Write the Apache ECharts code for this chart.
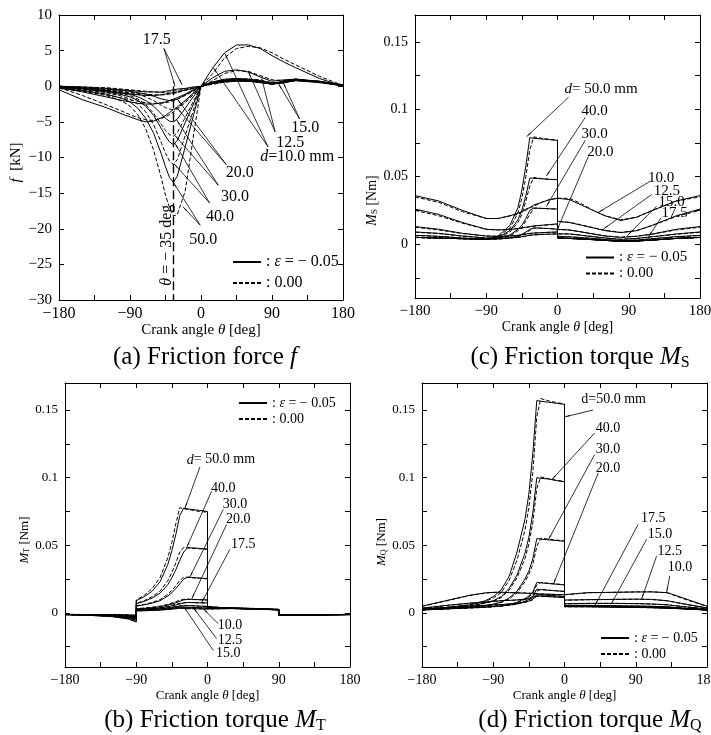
<!DOCTYPE html>
<html>
<head>
<meta charset="utf-8">
<script src="https://cdn.jsdelivr.net/npm/echarts@6/dist/echarts.min.js"></script>
<style>
  html, body { margin: 0; padding: 0; background: #fff; }
  #chart { width: 711px; height: 735px; }
</style>
</head>
<body>
<div id="chart"></div>
<script>
// 直径 d [mm]
var diameters = ['10.0', '12.5', '15.0', '17.5', '20.0', '30.0', '40.0', '50.0'];

// (a) 摩擦力 f [kN]
var thetaA = [-180,-150,-120,-100,-90,-80,-70,-60,-50,-45,-40,-35,-30,-20,-10,0,15,30,45,60,75,90,105,120,150,180];
var fSolid = [
  [-0.5,-1.9,-3.0,-3.9,-4.3,-4.7,-5.0,-4.9,-4.4,-4.1,-3.7,-3.3,-2.9,-2.0,-1.0,0,2.6,4.7,5.8,5.8,5.3,4.3,3.4,2.6,1.1,0],
  [-0.2,-0.8,-1.5,-2.0,-2.2,-2.4,-2.5,-2.5,-2.3,-2.2,-2.0,-1.8,-1.6,-1.1,-0.5,0,1.2,2.1,2.3,2.0,1.3,0.7,0.9,1.0,0.6,0],
  [0,-0.3,-0.7,-1.0,-1.1,-1.2,-1.3,-1.3,-1.2,-1.1,-1.0,-0.9,-0.8,-0.5,-0.3,0,0.6,1.0,1.1,1.0,0.8,0.4,0.7,0.9,0.6,0.1],
  [0,-0.1,-0.3,-0.5,-0.6,-0.7,-0.8,-0.8,-0.8,-0.7,-0.6,-0.5,-0.4,-0.3,-0.1,0,0.4,0.7,0.8,0.8,0.6,0.3,0.7,0.9,0.6,0.1],
  [0,-0.2,-0.4,-0.6,-0.7,-0.9,-1.1,-1.4,-1.8,-1.9,-2.0,-2.0,-1.8,-1.2,-0.6,0,0.4,0.6,0.7,0.7,0.6,0.3,0.6,0.8,0.6,0.1],
  [-0.1,-0.3,-0.6,-0.9,-1.1,-1.5,-2.0,-2.8,-3.9,-4.5,-4.9,-5.0,-4.6,-3.1,-1.5,0,0.5,0.7,0.8,0.7,0.5,0.3,0.5,0.8,0.5,0.1],
  [-0.2,-0.4,-0.8,-1.2,-1.5,-2.0,-2.8,-4.1,-6.0,-7.0,-7.8,-8.2,-7.6,-5.1,-2.6,0,0.5,0.8,0.9,0.8,0.6,0.3,0.5,0.9,0.6,0.1],
  [-0.3,-0.6,-1.1,-1.7,-2.2,-3.1,-4.5,-6.6,-9.6,-11.3,-12.8,-13.5,-12.6,-8.5,-4.3,0,0.6,0.9,1.0,0.9,0.6,0.4,0.6,1.0,0.6,0.1]
];
var fDashed = [
  [-0.2,-1.3,-2.6,-3.5,-4.0,-4.4,-4.7,-4.8,-4.5,-4.3,-4.0,-3.6,-3.2,-2.3,-1.2,0,1.8,4.0,5.3,5.6,5.4,4.7,3.8,3.0,1.4,0.1],
  [-0.1,-0.6,-1.2,-1.7,-1.9,-2.1,-2.3,-2.4,-2.4,-2.3,-2.2,-2.0,-1.8,-1.3,-0.7,0,0.8,1.8,2.2,2.1,1.5,0.9,0.8,1.0,0.7,0.1],
  [0,-0.2,-0.5,-0.8,-0.9,-1.0,-1.1,-1.2,-1.2,-1.2,-1.1,-1.0,-0.9,-0.6,-0.3,0,0.4,0.8,1.0,1.0,0.9,0.5,0.6,0.9,0.7,0.2],
  [0,-0.1,-0.2,-0.4,-0.5,-0.6,-0.7,-0.8,-0.9,-0.9,-0.8,-0.7,-0.6,-0.4,-0.2,0,0.3,0.6,0.8,0.8,0.7,0.4,0.6,0.9,0.7,0.2],
  [0,-0.2,-0.5,-0.7,-0.9,-1.1,-1.5,-2.0,-2.7,-3.0,-3.2,-3.3,-3.1,-2.1,-1.0,0,0.3,0.6,0.7,0.7,0.6,0.4,0.6,0.8,0.6,0.2],
  [-0.1,-0.3,-0.7,-1.0,-1.3,-1.8,-2.6,-3.8,-5.4,-6.2,-6.8,-7.0,-6.5,-4.4,-2.2,0,0.4,0.7,0.8,0.8,0.6,0.4,0.5,0.8,0.6,0.2],
  [-0.2,-0.5,-0.9,-1.4,-1.8,-2.5,-3.6,-5.4,-8.0,-9.4,-10.5,-11.0,-10.3,-6.9,-3.5,0,0.4,0.8,0.9,0.9,0.7,0.4,0.5,0.9,0.7,0.2],
  [-0.3,-0.7,-1.3,-2.1,-2.8,-4.0,-6.0,-9.0,-13.0,-15.3,-17.0,-18.2,-18.0,-14.7,-7.3,0,0.5,0.9,1.0,1.0,0.7,0.5,0.6,1.0,0.7,0.2]
];

// (c) 摩擦トルク M_S [Nm]
var thetaC = [-180,-150,-120,-90,-75,-60,-50,-45,-40,-35,-30,-20,-10,0,0,15,30,45,60,80,100,120,150,180];
var msSolid = [
  [0.036,0.032,0.025,0.019,0.019,0.021,0.023,0.024,0.026,0.027,0.029,0.031,0.033,0.034,0.035,0.033,0.029,0.025,0.021,0.0175,0.020,0.025,0.032,0.036],
  [0.026,0.022,0.016,0.011,0.0105,0.011,0.0115,0.012,0.0125,0.013,0.0135,0.014,0.0145,0.015,0.017,0.016,0.014,0.012,0.010,0.0085,0.010,0.014,0.021,0.026],
  [0.013,0.011,0.008,0.006,0.0058,0.006,0.0065,0.007,0.0075,0.008,0.0082,0.0085,0.0088,0.009,0.011,0.0105,0.009,0.0075,0.006,0.005,0.0058,0.0075,0.011,0.013],
  [0.009,0.008,0.006,0.0045,0.0044,0.0047,0.005,0.0055,0.006,0.0066,0.0069,0.0072,0.0074,0.0076,0.008,0.0075,0.0065,0.0055,0.0045,0.0035,0.0042,0.0055,0.0075,0.009],
  [0.0065,0.0058,0.0045,0.0036,0.0038,0.0045,0.006,0.0072,0.009,0.011,0.012,0.0118,0.0115,0.011,0.0058,0.0054,0.0048,0.0042,0.0034,0.0026,0.003,0.004,0.0055,0.0065],
  [0.005,0.0045,0.004,0.0034,0.0043,0.0068,0.011,0.014,0.019,0.025,0.0268,0.0265,0.0262,0.026,0.0045,0.0042,0.0038,0.0033,0.0028,0.002,0.0023,0.003,0.0042,0.005],
  [0.005,0.0045,0.004,0.0035,0.005,0.010,0.018,0.025,0.036,0.049,0.0488,0.0485,0.048,0.0478,0.0045,0.0042,0.0038,0.0033,0.0028,0.002,0.0023,0.003,0.0042,0.005],
  [0.005,0.0045,0.004,0.0038,0.006,0.014,0.027,0.040,0.058,0.079,0.0785,0.078,0.0775,0.077,0.0045,0.0042,0.0038,0.0033,0.0028,0.002,0.0023,0.003,0.0042,0.005]
];
var msDashed = [
  [0.035,0.031,0.024,0.019,0.019,0.021,0.022,0.024,0.025,0.027,0.028,0.031,0.033,0.034,0.035,0.034,0.030,0.025,0.021,0.018,0.020,0.025,0.032,0.035],
  [0.025,0.021,0.0155,0.011,0.0105,0.011,0.0115,0.012,0.0123,0.0128,0.0133,0.0138,0.0143,0.0148,0.0168,0.0162,0.0143,0.0122,0.0102,0.0087,0.010,0.0138,0.0205,0.025],
  [0.0125,0.0105,0.0078,0.006,0.0058,0.0059,0.0064,0.0068,0.0073,0.0078,0.0081,0.0084,0.0087,0.0089,0.0108,0.0104,0.0091,0.0076,0.0061,0.0051,0.0058,0.0074,0.0105,0.0125],
  [0.0088,0.0078,0.0059,0.0045,0.0044,0.0046,0.0049,0.0053,0.0058,0.0064,0.0068,0.0071,0.0073,0.0075,0.0079,0.0076,0.0066,0.0056,0.0046,0.0036,0.0042,0.0054,0.0073,0.0088],
  [0.0063,0.0057,0.0045,0.0036,0.0037,0.0043,0.0055,0.0066,0.0082,0.0102,0.0119,0.0118,0.0115,0.011,0.0058,0.0054,0.0048,0.0042,0.0034,0.0026,0.003,0.004,0.0054,0.0063],
  [0.0049,0.0045,0.004,0.0034,0.0041,0.006,0.0098,0.0125,0.017,0.022,0.0266,0.0265,0.0262,0.026,0.0045,0.0042,0.0038,0.0033,0.0028,0.002,0.0023,0.003,0.0042,0.0049],
  [0.0049,0.0045,0.004,0.0035,0.0046,0.009,0.016,0.022,0.032,0.043,0.0495,0.0486,0.0481,0.0478,0.0045,0.0042,0.0038,0.0033,0.0028,0.002,0.0023,0.003,0.0042,0.0049],
  [0.0049,0.0045,0.004,0.0037,0.0055,0.012,0.023,0.034,0.050,0.070,0.0795,0.0786,0.0777,0.077,0.0045,0.0042,0.0038,0.0033,0.0028,0.002,0.0023,0.003,0.0042,0.0049]
];

// (b) 摩擦トルク M_T [Nm]
var thetaB = [-180,-150,-120,-100,-90,-90,-80,-70,-60,-50,-45,-40,-35,-30,-25,-20,-10,0,0,30,60,90,90,120,150,180];
var mtSolid = [
  [-0.0011,-0.0012,-0.0013,-0.0015,-0.0018,0.0015,0.0016,0.0018,0.0021,0.0025,0.0028,0.0031,0.0034,0.0033,0.0032,0.0031,0.003,0.0029,0.0033,0.0032,0.0028,0.0022,-0.0014,-0.0014,-0.0013,-0.0011],
  [-0.0012,-0.0013,-0.0015,-0.0018,-0.0022,0.0017,0.0019,0.0022,0.0025,0.003,0.0033,0.0037,0.0041,0.0042,0.0041,0.004,0.0038,0.0036,0.0034,0.0033,0.0029,0.0023,-0.0015,-0.0014,-0.0013,-0.0011],
  [-0.0012,-0.0014,-0.0017,-0.0021,-0.0026,0.002,0.0023,0.0026,0.003,0.0036,0.004,0.0045,0.005,0.0053,0.0054,0.0053,0.005,0.0048,0.0035,0.0033,0.0029,0.0023,-0.0015,-0.0015,-0.0013,-0.0012],
  [-0.0012,-0.0015,-0.0019,-0.0025,-0.0031,0.0025,0.0028,0.0032,0.0037,0.0046,0.0052,0.0058,0.0066,0.0073,0.0077,0.0077,0.0075,0.0074,0.0036,0.0034,0.003,0.0024,-0.0015,-0.0015,-0.0014,-0.0012],
  [-0.0012,-0.0015,-0.002,-0.0027,-0.0035,0.003,0.0034,0.0039,0.0046,0.0058,0.0066,0.0075,0.0086,0.0096,0.0101,0.010,0.0098,0.0096,0.0036,0.0034,0.003,0.0024,-0.0016,-0.0015,-0.0014,-0.0012],
  [-0.0012,-0.0016,-0.0022,-0.0032,-0.0045,0.005,0.006,0.0072,0.009,0.0125,0.015,0.018,0.0215,0.025,0.0265,0.0262,0.0258,0.0254,0.0037,0.0035,0.003,0.0024,-0.0016,-0.0016,-0.0014,-0.0012],
  [-0.0012,-0.0017,-0.0025,-0.0038,-0.0055,0.0068,0.0085,0.011,0.0145,0.021,0.026,0.032,0.039,0.045,0.0483,0.0481,0.0477,0.0472,0.0039,0.0036,0.0031,0.0025,-0.0016,-0.0016,-0.0014,-0.0012],
  [-0.0012,-0.0018,-0.0028,-0.0045,-0.0068,0.009,0.012,0.016,0.023,0.036,0.046,0.058,0.072,0.0775,0.077,0.0765,0.0758,0.075,0.004,0.0037,0.0032,0.0026,-0.0016,-0.0017,-0.0015,-0.0013]
];
var mtDashed = [
  [-0.0011,-0.0012,-0.0013,-0.0015,-0.0017,0.0015,0.0017,0.0019,0.0022,0.0026,0.0029,0.0032,0.0034,0.0033,0.0032,0.0031,0.003,0.0029,0.0033,0.0032,0.0028,0.0022,-0.0014,-0.0014,-0.0013,-0.0011],
  [-0.0012,-0.0013,-0.0015,-0.0018,-0.0021,0.0018,0.002,0.0023,0.0026,0.0032,0.0035,0.0039,0.0042,0.0042,0.0041,0.004,0.0038,0.0036,0.0034,0.0033,0.0029,0.0023,-0.0015,-0.0014,-0.0013,-0.0011],
  [-0.0012,-0.0014,-0.0017,-0.002,-0.0025,0.0021,0.0024,0.0028,0.0032,0.0039,0.0043,0.0048,0.0053,0.0054,0.0054,0.0053,0.005,0.0048,0.0035,0.0033,0.0029,0.0023,-0.0015,-0.0015,-0.0013,-0.0012],
  [-0.0012,-0.0015,-0.0019,-0.0024,-0.003,0.0026,0.003,0.0034,0.004,0.005,0.0057,0.0064,0.0072,0.0076,0.0077,0.0076,0.0074,0.0073,0.0036,0.0034,0.003,0.0024,-0.0015,-0.0015,-0.0014,-0.0012],
  [-0.0012,-0.0015,-0.002,-0.0026,-0.0034,0.0031,0.0036,0.0042,0.005,0.0064,0.0073,0.0083,0.0094,0.0101,0.0101,0.0099,0.0097,0.0095,0.0036,0.0034,0.003,0.0024,-0.0016,-0.0015,-0.0014,-0.0012],
  [-0.0012,-0.0016,-0.0021,-0.0031,-0.0043,0.0052,0.0063,0.0077,0.0098,0.0138,0.0167,0.020,0.024,0.0265,0.0263,0.026,0.0256,0.0252,0.0037,0.0035,0.003,0.0024,-0.0016,-0.0016,-0.0014,-0.0012],
  [-0.0012,-0.0016,-0.0024,-0.0036,-0.0052,0.007,0.009,0.012,0.016,0.024,0.030,0.037,0.045,0.0485,0.048,0.0478,0.0474,0.047,0.004,0.0037,0.0032,0.0026,-0.0015,-0.0015,-0.0014,-0.0012],
  [-0.0012,-0.0017,-0.0026,-0.0042,-0.0063,0.0095,0.013,0.018,0.026,0.041,0.052,0.066,0.0778,0.077,0.0765,0.076,0.075,0.0745,0.0042,0.0038,0.0033,0.0027,-0.0015,-0.0016,-0.0015,-0.0012]
];

// (d) 摩擦トルク M_Q [Nm]
var thetaD = [-180,-150,-120,-100,-90,-80,-70,-60,-50,-45,-40,-35,-30,-20,-10,0,0,30,60,90,110,130,150,180];
var mqSolid = [
  [0.005,0.009,0.013,0.0148,0.0152,0.0153,0.015,0.0148,0.0146,0.0145,0.0143,0.0141,0.014,0.0138,0.0136,0.0135,0.0145,0.015,0.0152,0.0155,0.0155,0.015,0.011,0.005],
  [0.0035,0.0055,0.0072,0.0082,0.0086,0.009,0.0093,0.0096,0.0102,0.0108,0.0118,0.0125,0.0123,0.012,0.0117,0.0114,0.0095,0.0098,0.010,0.0102,0.010,0.009,0.0068,0.0037],
  [0.0028,0.004,0.005,0.0056,0.0059,0.0062,0.0066,0.0071,0.008,0.0088,0.0102,0.0135,0.0133,0.0129,0.0125,0.0121,0.0068,0.0071,0.0071,0.0069,0.0066,0.006,0.0047,0.003],
  [0.0024,0.0033,0.004,0.0045,0.0048,0.0052,0.0058,0.0066,0.0085,0.010,0.0125,0.0175,0.0172,0.0167,0.0163,0.0158,0.0056,0.0056,0.0054,0.0051,0.0049,0.0045,0.0036,0.0024],
  [0.0022,0.003,0.0037,0.0042,0.0046,0.0052,0.0062,0.0078,0.0105,0.0125,0.0155,0.0225,0.0222,0.0217,0.0212,0.0207,0.005,0.005,0.0048,0.0046,0.0044,0.0041,0.0033,0.0022],
  [0.0022,0.003,0.004,0.0055,0.0065,0.008,0.011,0.016,0.025,0.031,0.040,0.055,0.0545,0.054,0.0535,0.053,0.0046,0.0046,0.0044,0.0041,0.0039,0.0036,0.003,0.0021],
  [0.0025,0.0035,0.005,0.0075,0.009,0.012,0.018,0.028,0.044,0.056,0.074,0.100,0.0995,0.099,0.0978,0.097,0.0048,0.0047,0.0045,0.0042,0.004,0.0037,0.0031,0.0022],
  [0.003,0.004,0.006,0.009,0.012,0.017,0.027,0.045,0.069,0.088,0.118,0.157,0.1565,0.1558,0.155,0.1542,0.005,0.0049,0.0047,0.0044,0.0042,0.0038,0.0032,0.0023]
];
var mqDashed = [
  [0.0048,0.0088,0.0128,0.0147,0.0151,0.0153,0.0151,0.0149,0.0147,0.0146,0.0144,0.0142,0.014,0.0138,0.0136,0.0134,0.0144,0.0149,0.0152,0.0155,0.0157,0.0148,0.0105,0.0048],
  [0.0034,0.0054,0.0071,0.0081,0.0085,0.0089,0.0092,0.0095,0.01,0.0105,0.0113,0.0122,0.0124,0.0121,0.0118,0.0115,0.0094,0.0097,0.0099,0.0101,0.0099,0.0089,0.0066,0.0036],
  [0.0027,0.0039,0.0049,0.0055,0.0058,0.0061,0.0065,0.007,0.0078,0.0085,0.0097,0.0125,0.0134,0.013,0.0126,0.0122,0.0067,0.007,0.007,0.0068,0.0065,0.0059,0.0046,0.0029],
  [0.0023,0.0032,0.0039,0.0044,0.0047,0.0051,0.0057,0.0064,0.0081,0.0095,0.0117,0.016,0.0174,0.0168,0.0164,0.0159,0.0055,0.0055,0.0053,0.005,0.0048,0.0044,0.0035,0.0023],
  [0.0022,0.0029,0.0036,0.0041,0.0045,0.0051,0.006,0.0075,0.0099,0.0117,0.0145,0.0205,0.0226,0.0219,0.0214,0.0208,0.0049,0.0049,0.0047,0.0045,0.0043,0.004,0.0032,0.0022],
  [0.0022,0.003,0.0039,0.0053,0.0062,0.0076,0.0103,0.0148,0.023,0.0285,0.036,0.049,0.0553,0.0545,0.0538,0.0532,0.0045,0.0045,0.0043,0.004,0.0038,0.0035,0.003,0.0021],
  [0.0025,0.0034,0.0048,0.0072,0.0086,0.0113,0.0168,0.026,0.040,0.051,0.067,0.092,0.1005,0.0992,0.098,0.0972,0.0047,0.0046,0.0044,0.0041,0.0039,0.0036,0.003,0.0022],
  [0.003,0.004,0.0058,0.0085,0.011,0.015,0.024,0.039,0.061,0.078,0.104,0.145,0.1585,0.1568,0.1555,0.1545,0.0049,0.0048,0.0046,0.0043,0.0041,0.0037,0.0031,0.0023]
];

// 目盛
var thetaTicks = [-180, -90, 0, 90, 180];
var fTicks = [-30, -25, -20, -15, -10, -5, 0, 5, 10];
var mTickLabels = [0, 0.05, 0.1, 0.15];
var mTicks = [-0.025, 0, 0.025, 0.05, 0.075, 0.1, 0.125, 0.15];

// θ = -35 deg 基準線
var thetaRef = -35;

// 注記 [文字, θ, 値, 回転]
var notesA = [['17.5', -56, 6.5], ['15.0', 132, -5.9], ['12.5', 113, -8.0], ['{i|d}=10.0 mm', 122, -9.9],
  ['20.0', 49, -12.2], ['30.0', 43, -15.5], ['40.0', 24, -18.3], ['50.0', 3, -21.6], ['{i|θ} = − 35 deg', -43, -22.3, 90]];
var arrowsA = [[-47,5.3,-33,0.0], [-47,5.3,-24,0.2], [125,-4.6,98,0.4], [125,-4.6,104,0.6],
  [94,-6.4,60,2.05], [94,-6.4,77,1.1], [85,-8.5,15.6,2.6], [85,-8.5,30.4,4.6],
  [32,-11,-30,-1.8], [32,-11,-30,-3.1], [22,-13.9,-31,-4.7], [22,-13.9,-33,-6.9],
  [11,-16.4,-33,-8.0], [11,-16.4,-34,-10.9], [-1,-19.5,-35,-13.5], [-1,-19.5,-23,-16.9]];
var notesC = [['{i|d}= 50.0 mm', 55, 0.115], ['40.0', 47, 0.099], ['30.0', 47, 0.082], ['20.0', 54, 0.0686],
  ['10.0', 131, 0.049], ['12.5', 138, 0.039], ['15.0', 144, 0.031], ['17.5', 148, 0.0233]];
var arrowsC = [[14,0.109,-39,0.0797], [35,0.094,-14,0.0505], [35,0.077,-14,0.028], [39,0.065,-1,0.0098],
  [117,0.0466,51.5,0.0235], [119,0.0368,58,0.0112], [125,0.028,88,0.0062], [131,0.0196,115,0.0055]];
var notesB = [['{i|d}= 50.0 mm', 17, 0.1132], ['40.0', 20, 0.0924], ['30.0', 34.6, 0.080], ['20.0', 38.8, 0.069],
  ['17.5', 45, 0.0507], ['10.0', 28.3, -0.0093], ['12.5', 28.3, -0.0204], ['15.0', 26.2, -0.030]];
var arrowsB = [[-9.5,0.108,-28.5,0.0775], [5.2,0.09,-26.3,0.0483], [19.9,0.0765,-22.2,0.0265], [24.1,0.0654,-20,0.0102],
  [28.3,0.047,-7.4,0.0076], [13.6,-0.008,-5.4,0.003], [11.5,-0.019,-18,0.0039], [7.3,-0.0277,-30.6,0.0052]];
var notesD = [['d=50.0 mm', 62, 0.158], ['40.0', 55, 0.1365], ['30.0', 55, 0.1206], ['20.0', 55, 0.107],
  ['17.5', 112, 0.0696], ['15.0', 120.5, 0.058], ['12.5', 133, 0.0458], ['10.0', 146, 0.0336]];
var arrowsD = [[36,0.15,0.6,0.145], [38,0.133,-16,0.0985], [38,0.117,-20.5,0.054], [42.6,0.1035,-14,0.0213],
  [93,0.0654,38.4,0.0054], [103.7,0.0544,59.5,0.0071], [116.3,0.042,97.4,0.0102], [133,0.0274,129,0.0152]];

var FONT = '"Liberation Serif", "Times New Roman", serif';
var minus = function (v) { return String(v).replace('-', '\u2212'); };
var rich = function (fs) {
  return {
    i: { fontStyle: 'italic', fontFamily: FONT, fontSize: fs, color: '#000' },
    s: { fontFamily: FONT, fontSize: Math.round(fs * 0.65), color: '#000', padding: [Math.round(fs * 0.45), 0, 0, 0] }
  };
};

var panels = [
  { grid: { left: 59, top: 15, width: 284, height: 285 }, theta: thetaA, solid: fSolid, dashed: fDashed,
    y: { min: -30, max: 10, interval: 5 }, yTicks: fTicks, yLabels: fTicks,
    yName: '{i|f}  [kN]', yGap: 35, yPad: 10, fs: 15, xGap: 20,
    notes: notesA, arrows: arrowsA, legend: { left: 232, top: 254, gap: 5, fs: 16 } },
  { grid: { left: 415, top: 15, width: 285, height: 283 }, theta: thetaC, solid: msSolid, dashed: msDashed,
    y: { min: -0.04, max: 0.17 }, yTicks: mTicks, yLabels: mTickLabels,
    yName: '{i|M}{s|S} [Nm]', yGap: 33, yPad: 88, fs: 14, xGap: 20,
    notes: notesC, arrows: arrowsC, legend: { left: 585, top: 250, gap: 1, fs: 15 } },
  { grid: { left: 65, top: 383, width: 285, height: 284 }, theta: thetaB, solid: mtSolid, dashed: mtDashed,
    y: { min: -0.04, max: 0.17 }, yTicks: mTicks, yLabels: mTickLabels,
    yName: '{i|M}{s|T} [Nm]', yGap: 31, yPad: 30, fs: 13, xGap: 22,
    notes: notesB, arrows: arrowsB, legend: { left: 238, top: 396, gap: 2, fs: 14 } },
  { grid: { left: 422, top: 383, width: 285, height: 284 }, theta: thetaD, solid: mqSolid, dashed: mqDashed,
    y: { min: -0.04, max: 0.17 }, yTicks: mTicks, yLabels: mTickLabels,
    yName: '{i|M}{s|Q} [Nm]', yGap: 33, yPad: 34, fs: 13, xGap: 22,
    notes: notesD, arrows: arrowsD, legend: { left: 600, top: 631, gap: 2, fs: 14 } }
];

var captions = [
  { text: '(a) Friction force {i|f}', x: 205, y: 357 },
  { text: '(c) Friction torque {i|M}{s|S}', x: 580, y: 357 },
  { text: '(b) Friction torque {i|M}{s|T}', x: 215, y: 720 },
  { text: '(d) Friction torque {i|M}{s|Q}', x: 590, y: 720 }
];

var pairs = function (xs, ys) { return xs.map(function (x, i) { return [x, ys[i]]; }); };

var grids = [], xAxes = [], yAxes = [], series = [], legends = [];
panels.forEach(function (p, g) {
  grids.push(Object.assign({ containLabel: false, outerBoundsMode: 'none' }, p.grid));
  var black = { color: '#000', width: 1 };
  var xBase = { type: 'value', gridIndex: g, min: -180, max: 180, interval: 45,
    splitLine: { show: false }, axisLine: { onZero: false, lineStyle: black },
    axisTick: { inside: true, length: 5, lineStyle: black } };
  xAxes.push(Object.assign({}, xBase, {
    position: 'bottom',
    axisLabel: { color: '#000', fontFamily: FONT, fontSize: p.fs + 1, margin: 6,
      formatter: function (v) { return thetaTicks.indexOf(v) >= 0 ? minus(v) : ''; } },
    name: 'Crank angle {i|θ} [deg]', nameLocation: 'middle', nameGap: p.xGap,
    nameTextStyle: { color: '#000', fontFamily: FONT, fontSize: p.fs, rich: rich(p.fs) }
  }));
  xAxes.push(Object.assign({}, xBase, { position: 'top', axisLabel: { show: false } }));
  var yBase = { type: 'value', gridIndex: g, min: p.y.min, max: p.y.max,
    splitLine: { show: false }, axisLine: { onZero: false, lineStyle: black },
    axisTick: { inside: true, length: 5, lineStyle: black, customValues: p.yTicks } };
  if (p.y.interval) yBase.interval = p.y.interval;
  yAxes.push(Object.assign({}, yBase, {
    position: 'left',
    axisLabel: { color: '#000', fontFamily: FONT, fontSize: p.fs, margin: 7, customValues: p.yLabels, formatter: minus },
    name: p.yName, nameLocation: 'middle', nameGap: p.yGap,
    nameTextStyle: { color: '#000', fontFamily: FONT, fontSize: p.fs, rich: rich(p.fs), padding: [0, p.yPad, 0, 0] }
  }));
  yAxes.push(Object.assign({}, yBase, { position: 'right', axisLabel: { show: false } }));

  diameters.forEach(function (d, k) {
    series.push({ type: 'line', name: 'e1', xAxisIndex: 2 * g, yAxisIndex: 2 * g, symbol: 'none', color: '#000',
      silent: true, data: pairs(p.theta, p.solid[k]), lineStyle: { color: '#000', width: 1, type: 'solid' } });
    series.push({ type: 'line', name: 'e2', xAxisIndex: 2 * g, yAxisIndex: 2 * g, symbol: 'none', color: '#000',
      silent: true, data: pairs(p.theta, p.dashed[k]), lineStyle: { color: '#000', width: 1, type: [4, 2] } });
  });

  var markData = p.arrows.map(function (a) { return [{ coord: [a[0], a[1]] }, { coord: [a[2], a[3]] }]; });
  series.push({
    type: 'scatter', name: 'notes', xAxisIndex: 2 * g, yAxisIndex: 2 * g, symbolSize: 0, silent: true, z: 5,
    itemStyle: { opacity: 1, color: '#000' },
    data: p.notes.map(function (n) {
      return { value: [n[1], n[2]], label: { formatter: n[0], rotate: n[3] || 0 } };
    }),
    label: { show: true, position: 'inside', color: '#000', opacity: 1, fontFamily: FONT, fontSize: p.fs + 1,
      textBorderWidth: 0, rich: rich(p.fs + 1) },
    markLine: { silent: true, symbol: ['none', 'arrow'], symbolSize: [1, 6], animation: false,
      label: { show: false }, lineStyle: { color: '#000', width: 0.8, type: 'solid', opacity: 1 },
      itemStyle: { color: '#000' }, data: markData }
  });

  legends.push({
    orient: 'vertical', left: p.legend.left, top: p.legend.top, itemWidth: 28, itemHeight: 8,
    itemGap: p.legend.gap, selectedMode: false, data: ['e1', 'e2'], padding: 0,
    itemStyle: { opacity: 0 },
    formatter: function (n) { return n === 'e1' ? ': {i|ε} = − 0.05' : ': 0.00'; },
    textStyle: { color: '#000', fontFamily: FONT, fontSize: p.legend.fs, rich: rich(p.legend.fs) }
  });
});

// θ = -35 deg の破線
series.push({
  type: 'line', name: 'ref', xAxisIndex: 0, yAxisIndex: 0, data: [], silent: true,
  markLine: { silent: true, symbol: 'none', animation: false, label: { show: false },
    lineStyle: { color: '#000', width: 1.4, type: [9, 4], opacity: 1 },
    data: [[{ coord: [thetaRef, 0] }, { coord: [thetaRef, -30] }]] }
});

var chart = echarts.init(document.getElementById('chart'));
chart.setOption({
  animation: false,
  backgroundColor: '#fff',
  textStyle: { fontFamily: FONT },
  grid: grids,
  xAxis: xAxes,
  yAxis: yAxes,
  legend: legends,
  series: series,
  graphic: captions.map(function (c) {
    return { type: 'text', x: c.x, y: c.y, silent: true,
      style: { text: c.text, fill: '#000', fontFamily: FONT, fontSize: 25, align: 'center', verticalAlign: 'middle', rich: rich(25) } };
  })
});
</script>
</body>
</html>
